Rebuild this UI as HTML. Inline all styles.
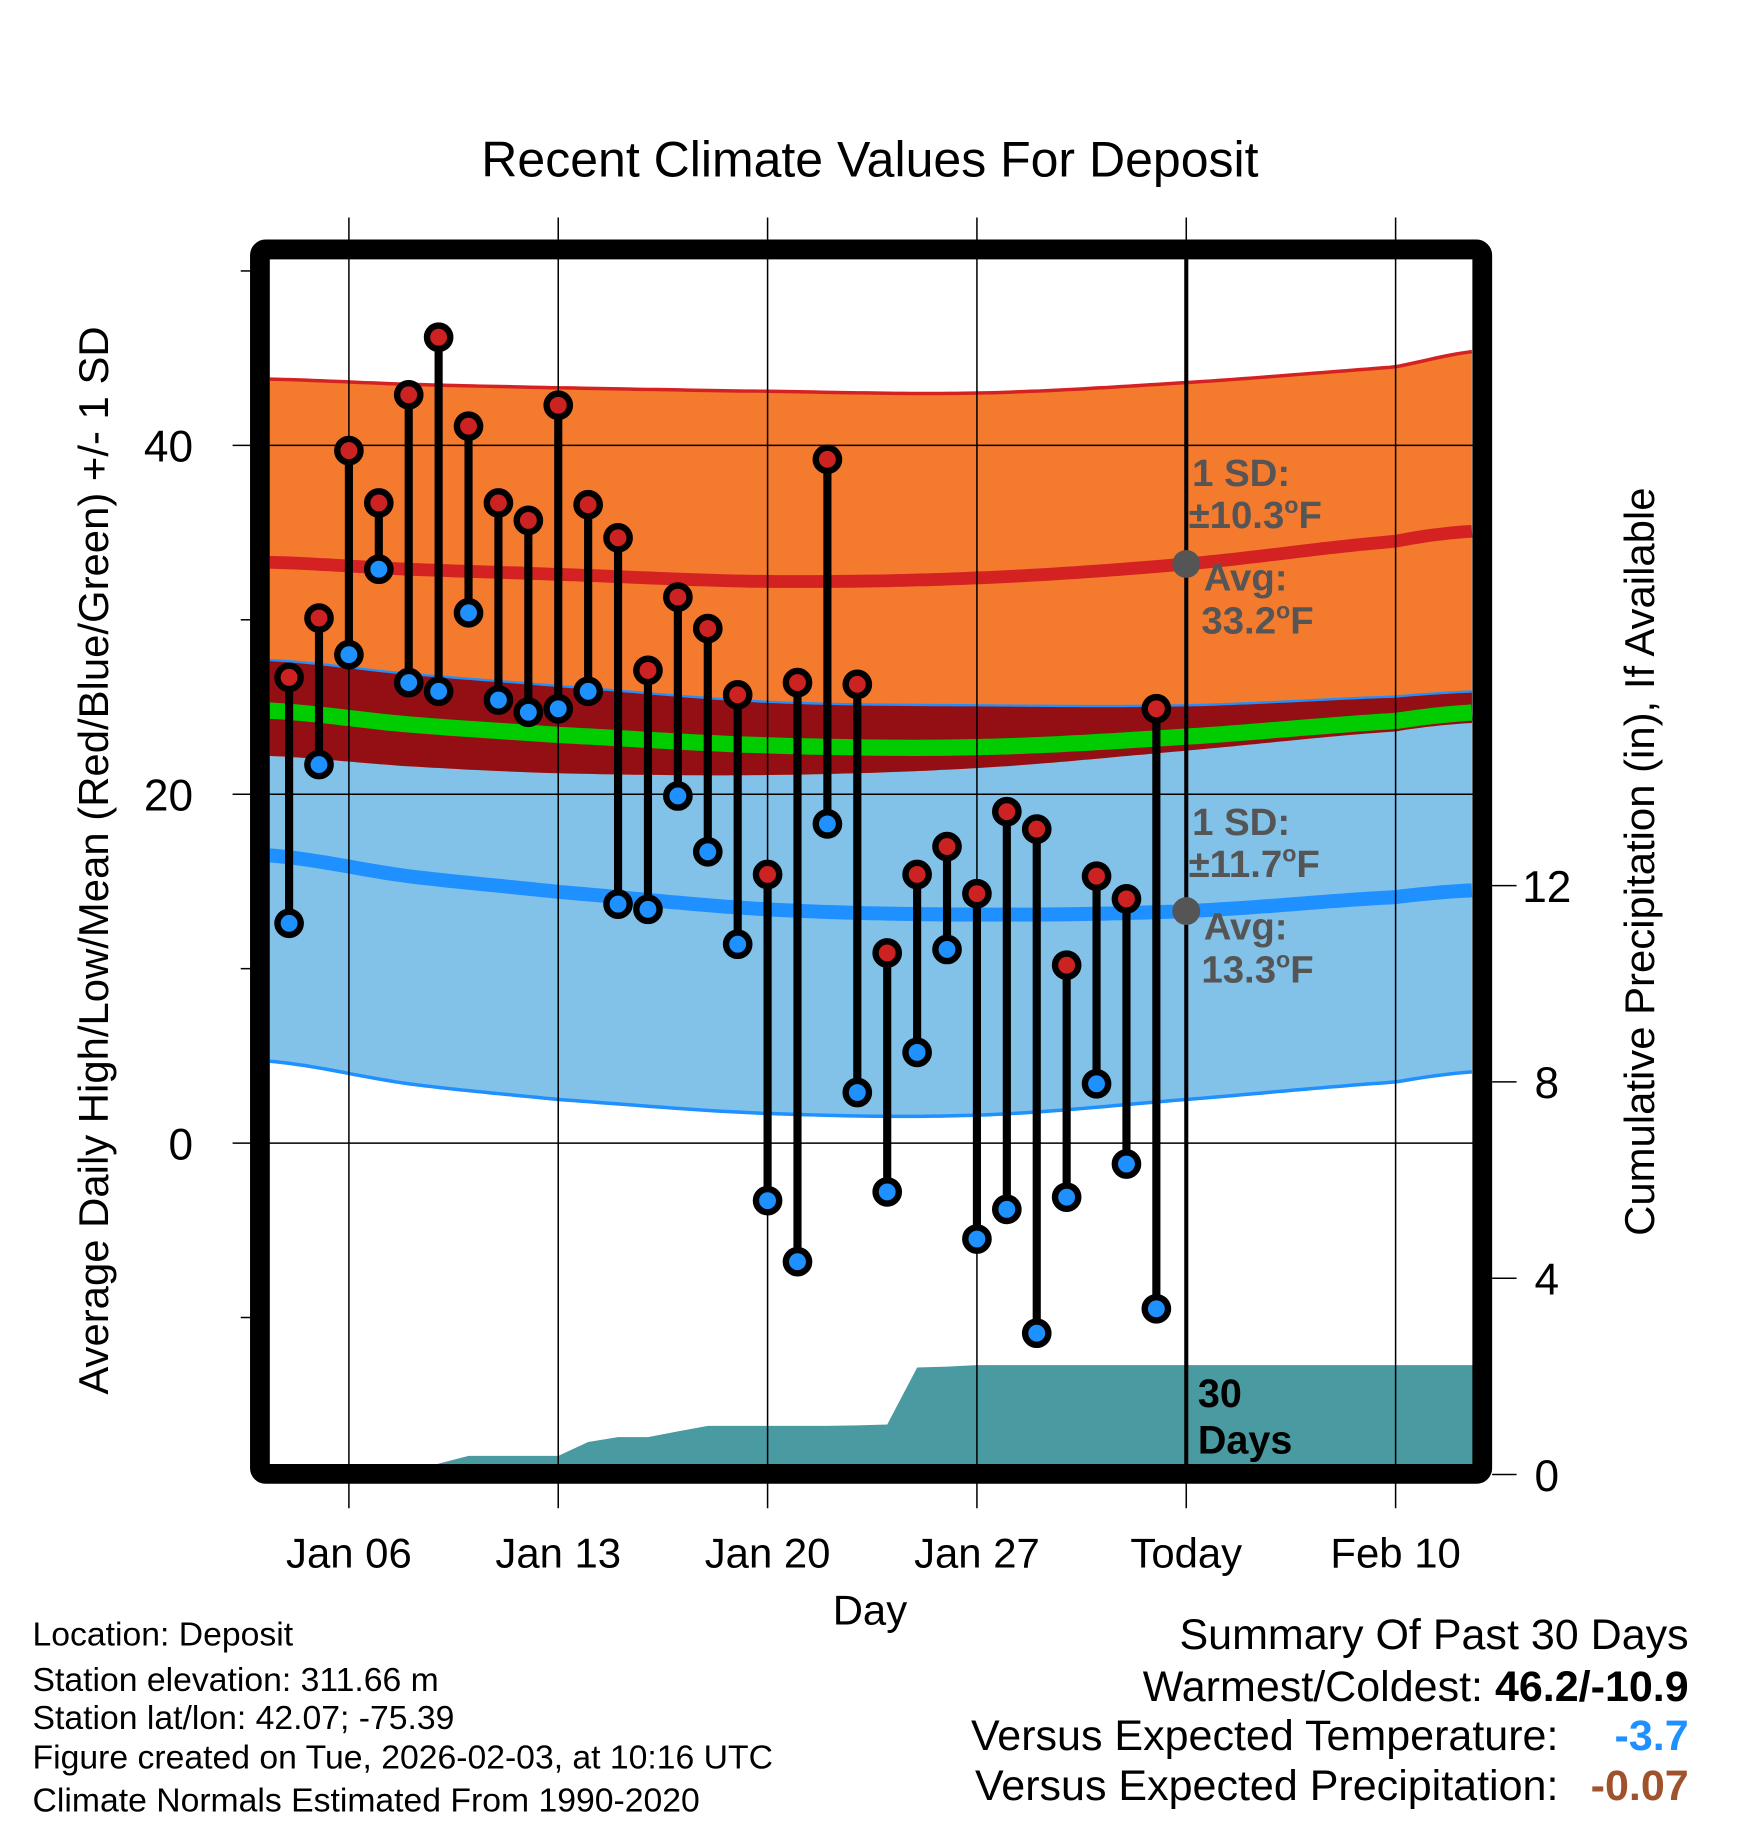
<!DOCTYPE html>
<html><head><meta charset="utf-8"><style>
html,body{margin:0;padding:0;background:#fff}
svg{display:block;font-family:"Liberation Sans",Arial,sans-serif}
</style></head><body>
<svg id="chart" width="1748" height="1828" viewBox="0 0 1503 1572" preserveAspectRatio="none" xmlns="http://www.w3.org/2000/svg">
<defs><clipPath id="clip"><rect x="232" y="223" width="1035" height="1036"/></clipPath></defs>
<text x="748" y="152" font-size="43" text-anchor="middle">Recent Climate Values For Deposit</text>
<g id="bands" clip-path="url(#clip)"></g>
<g id="grid"></g>
<g id="marks"></g>
<g id="axes"></g>
<text transform="translate(93,740) rotate(-90)" font-size="36" text-anchor="middle">Average Daily High/Low/Mean (Red/Blue/Green) +/- 1 SD</text>
<text transform="translate(1422,741) rotate(-90)" font-size="36" text-anchor="middle">Cumulative Precipitation (in), If Available</text>
<text x="748" y="1397" font-size="36" text-anchor="middle">Day</text>
<g font-weight="bold" fill="#555" font-size="33">
<text x="1025" y="418">1 SD:</text>
<text x="1022" y="454">±10.3<tspan font-size="20" dy="-13">o</tspan><tspan dy="13">F</tspan></text>
<text x="1035" y="508">Avg:</text>
<text x="1033" y="545">33.2<tspan font-size="20" dy="-13">o</tspan><tspan dy="13">F</tspan></text>
</g>
<g font-weight="bold" fill="#555" font-size="33">
<text x="1025" y="718">1 SD:</text>
<text x="1022" y="754">±11.7<tspan font-size="20" dy="-13">o</tspan><tspan dy="13">F</tspan></text>
<text x="1035" y="808">Avg:</text>
<text x="1033" y="845">13.3<tspan font-size="20" dy="-13">o</tspan><tspan dy="13">F</tspan></text>
</g>
<g font-weight="bold" font-size="34">
<text x="1030" y="1210">30</text><text x="1030" y="1250">Days</text>
</g>
<g font-size="29">
<text x="28" y="1415">Location: Deposit</text>
<text x="28" y="1454">Station elevation: 311.66 m</text>
<text x="28" y="1487">Station lat/lon: 42.07; -75.39</text>
<text x="28" y="1521">Figure created on Tue, 2026-02-03, at 10:16 UTC</text>
<text x="28" y="1558">Climate Normals Estimated From 1990-2020</text>
</g>
<g font-size="37" text-anchor="end">
<text x="1452" y="1418">Summary Of Past 30 Days</text>
<text x="1452" y="1463">Warmest/Coldest: <tspan font-weight="bold">46.2/-10.9</tspan></text>
<text x="1340" y="1505">Versus Expected Temperature:</text>
<text x="1452" y="1505" fill="#1e90ff" font-weight="bold">-3.7</text>
<text x="1340" y="1548">Versus Expected Precipitation:</text>
<text x="1452" y="1548" fill="#a0522d" font-weight="bold">-0.07</text>
</g>
</svg>
<script>
const days=[4,5,6,7,8,9,10,11,12,13,14,15,16,17,18,19,20,21,22,23,24,25,26,27,28,29,30,31,32,33];
const highs=[26.7,30.1,39.7,36.7,42.9,46.2,41.1,36.7,35.7,42.3,36.6,34.7,27.1,31.3,29.5,25.7,15.4,26.4,39.2,26.3,10.9,15.4,17.0,14.3,19.0,18.0,10.2,15.3,14.0,24.9];
const lows=[12.6,21.7,28.0,32.9,26.4,25.9,30.4,25.4,24.7,24.9,25.9,13.7,13.4,19.9,16.7,11.4,-3.3,-6.8,18.3,2.9,-2.8,5.2,11.1,-5.5,-3.8,-10.9,-3.1,3.4,-1.2,-9.5];
const precip=[0,0,0,0,0,0.22,0.38,0.38,0.38,0.38,0.66,0.76,0.76,0.88,0.99,0.99,0.99,0.99,0.99,1.0,1.02,2.18,2.2,2.23,2.23,2.23,2.23,2.23,2.23,2.23];
const normDays=[3.3,8,13,20,27,34,41,43.7];
const normHigh=[33.3,32.9,32.6,32.2,32.4,33.2,34.5,35.1];
const normHighUpper=[43.8,43.5,43.3,43.1,43.0,43.6,44.5,45.4];
const normHighLower=[22.2,21.6,21.2,21.1,21.5,22.5,23.6,24.1];
const normMean=[24.8,24.0,23.4,22.8,22.7,23.3,24.2,24.7];
const normLow=[16.5,15.3,14.4,13.4,13.1,13.3,14.1,14.5];
const normLowUpper=[27.7,26.9,26.2,25.3,25.1,25.1,25.6,25.9];
const normLowLower=[4.7,3.4,2.5,1.7,1.6,2.5,3.5,4.1];
const yTicks=[0,20,40], yMinor=[-10,10,30,50];
const pTicks=[0,4,8,12];
const xTickDays=[6,13,20,27,34,41];
const xTickLabels=["Jan 06","Jan 13","Jan 20","Jan 27","Today","Feb 10"];
const NS="http://www.w3.org/2000/svg";
const X=d=>300+(d-6)*180/7;
const Y=t=>983-15*t;
const P=p=>1268-42.2*p;
function mk(tag,attrs,parent){const e=document.createElementNS(NS,tag);for(const k in attrs)e.setAttribute(k,attrs[k]);parent.appendChild(e);return e;}
const bands=document.getElementById('bands'),grid=document.getElementById('grid'),marks=document.getElementById('marks'),axes=document.getElementById('axes');
// smooth (Catmull-Rom-ish via cosine-free monotone) interpolation
function interp(arr,d){const n=normDays.length;let i=0;while(i<n-2&&d>normDays[i+1])i++;
const t=(d-normDays[i])/(normDays[i+1]-normDays[i]);
const p0=arr[Math.max(i-1,0)],p1=arr[i],p2=arr[i+1],p3=arr[Math.min(i+2,n-1)];
const m1=(p2-p0)/2,m2=(p3-p1)/2;const t2=t*t,t3=t2*t;
return (2*t3-3*t2+1)*p1+(t3-2*t2+t)*m1+(-2*t3+3*t2)*p2+(t3-t2)*m2;}
const sd=[];for(let d=3.3;d<=43.75;d+=0.25)sd.push(d);
const line=f=>sd.map(d=>X(d).toFixed(1)+','+Y(f(d)).toFixed(1));
const F=arr=>(d=>interp(arr,d));
function band(top,bot,fill,name){const pts=line(top).concat(line(bot).reverse());const e=mk('polygon',{points:pts.join(' '),fill:fill},bands);

}
function pl(f,stroke,w,name){const e=mk('polyline',{points:line(f).join(' '),fill:'none',stroke:stroke,'stroke-width':w},bands);

}
band(F(normLowUpper),F(normLowLower),'#82c1e8','low-sd-band');
band(F(normHighUpper),F(normHighLower),'#f47a2e','high-sd-band');
band(F(normLowUpper),d=>Math.min(interp(normHighLower,d),interp(normLowUpper,d)),'#930f14','overlap-band');
pl(F(normHighUpper),'#d42222',3,'high-upper-line');
pl(F(normLowUpper),'#1e90ff',2,'low-upper-line');
pl(F(normLowLower),'#1e90ff',3,'low-lower-line');
pl(F(normHigh),'#d42222',11,'avg-high-line');
pl(F(normMean),'#00cc00',14,'avg-mean-line');
pl(F(normLow),'#1e90ff',12,'avg-low-line');
// precip area
{let pts=[[232,P(0)]];days.forEach((d,i)=>pts.push([X(d),P(precip[i])]));pts.push([1267,P(precip[precip.length-1])],[1267,1270],[232,1270]);
const e=mk('polygon',{points:pts.map(p=>p[0].toFixed(1)+','+p[1].toFixed(1)).join(' '),fill:'#4a9aa2'},bands);

}
// grid
yTicks.forEach(t=>{const e=mk('line',{x1:200,x2:1267,y1:Y(t),y2:Y(t),stroke:'#000','stroke-width':1.3},grid);


const l=mk('text',{x:166,y:Y(t)+14,'font-size':38,'text-anchor':'end'},axes);l.textContent=t;

});
yMinor.forEach(t=>{const e=mk('line',{x1:207,x2:216,y1:Y(t),y2:Y(t),stroke:'#000','stroke-width':1.3},grid);

});
xTickDays.forEach((d,i)=>{const e=mk('line',{x1:X(d),x2:X(d),y1:187,y2:1297,stroke:'#000','stroke-width':1.3},grid);


const l=mk('text',{x:X(d),y:1348,'font-size':36,'text-anchor':'middle'},axes);l.textContent=xTickLabels[i];

});
pTicks.forEach(p=>{const e=mk('line',{x1:1283,x2:1304,y1:P(p),y2:P(p),stroke:'#000','stroke-width':1.3},axes);


const l=mk('text',{x:1330,y:P(p)+14,'font-size':38,'text-anchor':'middle'},axes);l.textContent=p;

});
// today line
{const e=mk('line',{x1:X(34),x2:X(34),y1:220,y2:1262,stroke:'#000','stroke-width':3.5},grid);


const a=mk('circle',{cx:X(34),cy:Y(normHigh[5]),r:12,fill:'#555'},grid);


const b=mk('circle',{cx:X(34),cy:Y(normLow[5]),r:12,fill:'#555'},grid);

}
// frame
{const f=mk('rect',{x:223.5,y:214.5,width:1051,height:1053,rx:5,fill:'none',stroke:'#000','stroke-width':17},axes);

}
// daily marks
days.forEach((d,i)=>{const x=X(d);
const s=mk('line',{x1:x,x2:x,y1:Y(highs[i]),y2:Y(lows[i]),stroke:'#000','stroke-width':7},marks);


const h=mk('circle',{cx:x,cy:Y(highs[i]),r:10,fill:'#cc2222',stroke:'#000','stroke-width':5.5},marks);


const l=mk('circle',{cx:x,cy:Y(lows[i]),r:10,fill:'#1e90ff',stroke:'#000','stroke-width':5.5},marks);

});
</script>
</body></html>
